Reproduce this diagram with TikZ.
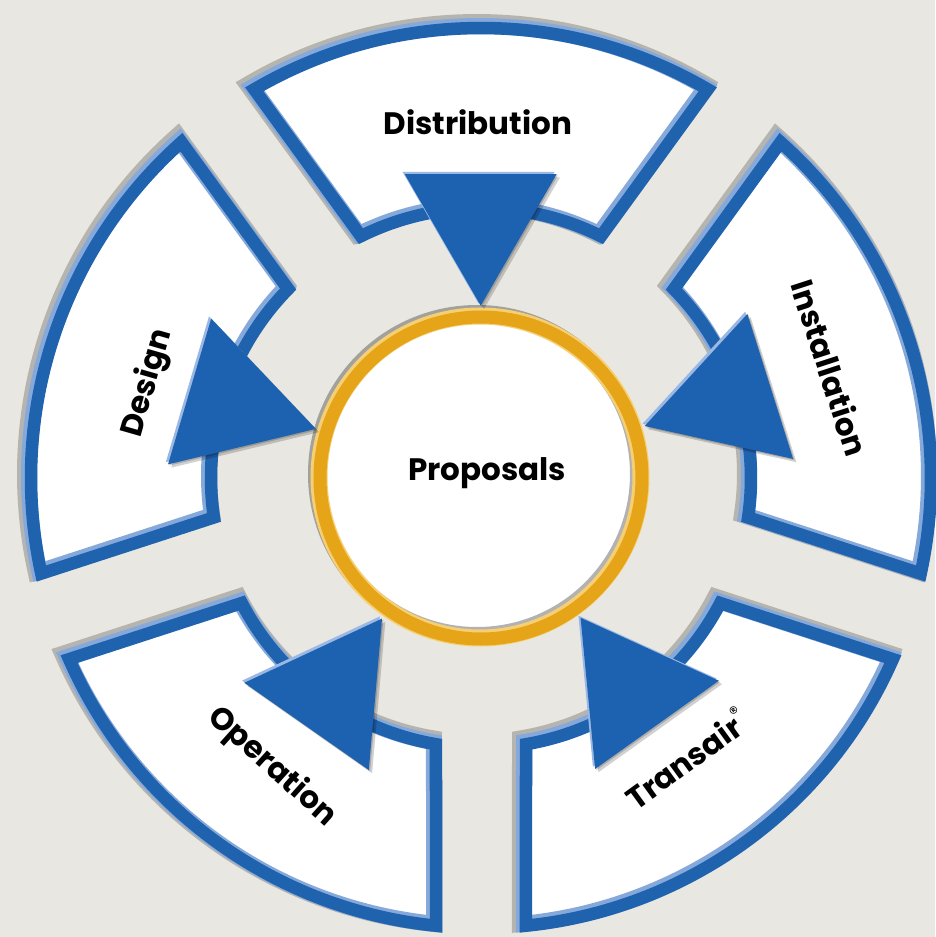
\documentclass[tikz,border=0pt]{standalone}
\usepackage{fontspec}
\setmainfont{Poppins}
\definecolor{bg}{HTML}{E8E7E1}
\definecolor{segblue}{HTML}{1F62AE}
\definecolor{seglight}{HTML}{86A9DC}
\definecolor{gold}{HTML}{E6A418}
\definecolor{goldlight}{HTML}{F6CF72}
\definecolor{triblue}{HTML}{1C62B0}
\definecolor{trilight}{HTML}{9BB8E4}
\tikzset{
  segp/.pic={\path[pic actions] (63.594:270) -- (59.739:450) arc[start angle=59.739, end angle=120.261, radius=450] -- (116.406:270) arc[start angle=116.406, end angle=63.594, radius=270] -- cycle;},
  trip/.pic={\path[pic actions] (90:172) -- (76,303.6) -- (-76,303.6) -- cycle;},
  segshadow/.style={draw=black, draw opacity=0.22, line width=20pt, line join=miter},
  segfill/.style={fill=white},
  seglightline/.style={draw=seglight, line width=16pt, line join=miter},
  segmainline/.style={draw=segblue, line width=12.5pt, line join=miter},
  trishadow/.style={fill=black, fill opacity=0.18},
  trilightfill/.style={fill=trilight},
  trimainfill/.style={fill=triblue},
  lbl/.style={font=\fontsize{31}{36}\selectfont\bfseries, text=black, inner sep=0pt}
}
\begin{document}
\begin{tikzpicture}[x=1pt,y=1pt]
\useasboundingbox (-480,-460) rectangle (455,477);
\fill[bg] (-480,-460) rectangle (455,477);
% segments
\foreach \r in {0,-72,-144,144,72} {
  \begin{scope}[shift={(-3,3)}]
    \pic[rotate=\r, segshadow] {segp};
  \end{scope}
  \pic[rotate=\r, segfill] {segp};
  \begin{scope}[shift={(-1,1)}]
    \pic[rotate=\r, seglightline] {segp};
  \end{scope}
  \begin{scope}[shift={(1,-1)}]
    \pic[rotate=\r, segmainline] {segp};
  \end{scope}
}
% centre ring
\fill[white] (0,0) circle (153);
\draw[black, opacity=0.3, line width=16pt] (-3,3) circle (161);
\draw[goldlight, line width=17pt] (0,0) circle (161);
\draw[gold, line width=13pt] (1,-1) circle (161);
% triangles
\foreach \r in {0,-72.5,-144.5,145,73.5} {
  \begin{scope}[shift={(4,-4)}]
    \pic[rotate=\r, trishadow] {trip};
  \end{scope}
  \begin{scope}[shift={(2,-2)}]
    \pic[rotate=\r, trishadow] {trip};
  \end{scope}
  \begin{scope}[shift={(-1.5,1.5)}]
    \pic[rotate=\r, trilightfill] {trip};
  \end{scope}
  \begin{scope}[shift={(0.7,-0.7)}]
    \pic[rotate=\r, trimainfill] {trip};
  \end{scope}
}
% labels
\node[lbl] (prop) at (7,4) {Proposals};
\node[lbl] (dist) at (-2,355) {Distribution};
\node[lbl, rotate=-72] (inst) at (350,109) {Installation};
\node[lbl, rotate=36] (trans) at (206,-281) {Transair\raisebox{0.5em}{\fontsize{18}{18}\selectfont\mdseries ®}};
\node[lbl, rotate=-42] (oper) at (-208,-290) {Operation};
\node[lbl, rotate=74] (design) at (-332,94) {Design};
\end{tikzpicture}
\end{document}
